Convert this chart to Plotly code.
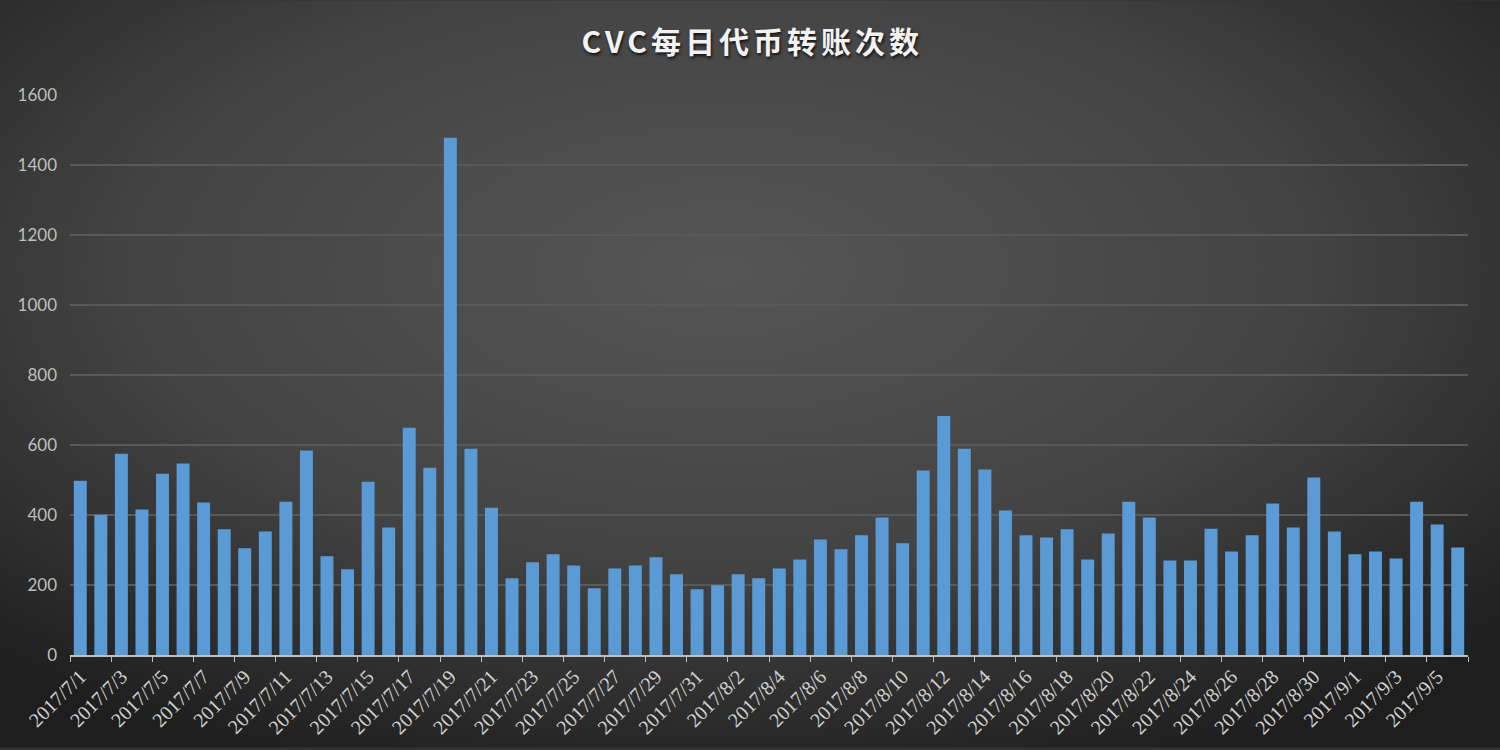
import base64
import plotly.graph_objects as go

# daily counts, 2017/7/1 .. 2017/9/6
july = [498, 401, 575, 416, 518, 547, 436, 359, 305, 353, 438, 584, 282, 245, 495, 364,
        649, 535, 1478, 589, 421, 219, 265, 288, 256, 191, 247, 256, 279, 231, 188]
august = [199, 231, 219, 247, 273, 330, 302, 342, 393, 319, 527, 683, 589, 530, 413, 342,
          336, 359, 273, 347, 438, 393, 270, 270, 361, 296, 342, 433, 364, 507, 353]
september = [288, 296, 276, 438, 373, 307]

dates = ([f"2017/7/{d}" for d in range(1, 32)]
         + [f"2017/8/{d}" for d in range(1, 32)]
         + [f"2017/9/{d}" for d in range(1, 7)])
counts = july + august + september

title = "CVC每日代币转账次数"

# background: radial grey gradient as an svg image behind the whole figure
svg = ('<svg xmlns="http://www.w3.org/2000/svg" width="1500" height="750" preserveAspectRatio="none">'
       '<defs><radialGradient id="g" cx="48%" cy="36%" r="72%">'
       '<stop offset="0%" stop-color="#565656"/>'
       '<stop offset="55%" stop-color="#434343"/>'
       '<stop offset="100%" stop-color="#1e1e1e"/>'
       '</radialGradient></defs>'
       '<rect width="1500" height="750" fill="url(#g)"/></svg>')
bg = "data:image/svg+xml;base64," + base64.b64encode(svg.encode()).decode()

W, H = 1500, 750
ml, mr, mt, mb = 70, 32, 95, 93
pw, ph = W - ml - mr, H - mt - mb

fig = go.Figure()
fig.add_trace(go.Bar(
    x=dates,
    y=counts,
    marker=dict(color="#5b9bd5", line=dict(width=0)),
    hoverinfo="x+y",
))

fig.update_layout(
    width=W,
    height=H,
    margin=dict(l=ml, r=mr, t=mt, b=mb),
    paper_bgcolor="#333333",
    plot_bgcolor="rgba(0,0,0,0)",
    bargap=0.37,
    showlegend=False,
    title=dict(
        text=f'<span style="letter-spacing:4px"><b>{title}</b></span>',
        x=0.488,
        xref="paper",
        xanchor="center",
        y=0.943,
        yanchor="middle",
        font=dict(family="Noto Sans CJK SC", size=30, color="#f2f2f2",
                  shadow="1px 2px 3px #111111"),
    ),
    images=[dict(
        source=bg,
        xref="paper", yref="paper",
        x=-ml / pw, y=1 + mt / ph,
        sizex=W / pw, sizey=H / ph,
        xanchor="left", yanchor="top",
        sizing="stretch",
        layer="below",
    )],
)

fig.update_xaxes(
    type="category",
    tickmode="linear",
    tick0=0,
    dtick=2,
    tickson="boundaries",
    ticks="outside",
    ticklen=5,
    tickcolor="#bfbfbf",
    tickangle=-45,
    tickfont=dict(family="Liberation Serif", size=20, color="#d0d0d0"),
    showline=True,
    linecolor="#bfbfbf",
    linewidth=2,
    showgrid=False,
)

fig.update_yaxes(
    range=[0, 1600],
    dtick=200,
    showgrid=True,
    gridcolor="#595959",
    gridwidth=1.5,
    zeroline=False,
    showline=False,
    tickfont=dict(family="Lato", size=17, color="#bfbfbf"),
    ticklabelstandoff=12,
)

fig.write_html("out.html", config={"displayModeBar": False},
               post_script="document.body.style.margin='0';")
